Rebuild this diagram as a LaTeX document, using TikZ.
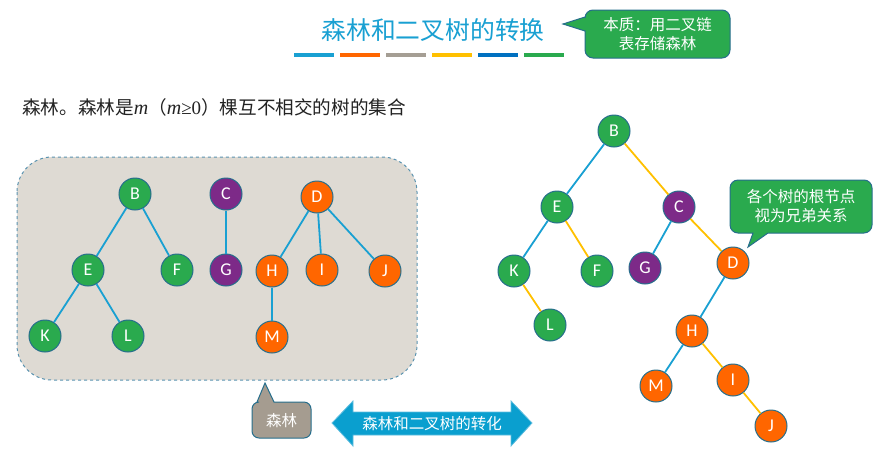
\documentclass[tikz,border=0pt]{standalone}
\usepackage{fontspec}
\setmainfont{Liberation Serif}
\newfontfamily\cjk{Noto Sans CJK SC}
\newfontfamily\lat{Carlito}
\definecolor{ttl}{HTML}{19A0D2}
\definecolor{bOrange}{HTML}{FF6600}
\definecolor{bGray}{HTML}{A59E94}
\definecolor{bYellow}{HTML}{FFC000}
\definecolor{bDBlue}{HTML}{0070C0}
\definecolor{bGreen}{HTML}{2AAA4E}
\definecolor{nGreen}{HTML}{2AAA4E}
\definecolor{nPurple}{HTML}{7D2A88}
\definecolor{nOrange}{HTML}{FF6600}
\definecolor{nBorder}{HTML}{266E8C}
\definecolor{eBlue}{HTML}{19A0D2}
\definecolor{eYellow}{HTML}{FFC000}
\definecolor{boxFill}{HTML}{DEDAD3}
\definecolor{boxLine}{HTML}{5A93B0}
\definecolor{grayCall}{HTML}{A59C90}
\definecolor{arrFill}{HTML}{0A9FCF}
\definecolor{descText}{HTML}{222222}
\tikzset{
  tn/.style={circle,draw=nBorder,line width=1pt,minimum size=32pt,inner sep=0pt,text=white,font=\lat\fontsize{18}{18}\selectfont},
  gn/.style={tn,fill=nGreen},
  pn/.style={tn,fill=nPurple},
  on/.style={tn,fill=nOrange},
  be/.style={draw=eBlue,line width=1.8pt},
  ye/.style={draw=eYellow,line width=1.8pt},
  bar/.style={line width=4pt},
  calltext/.style={text=white,font=\cjk\fontsize{15.5}{19}\selectfont,align=center,inner sep=0pt}
}
\begin{document}
\begin{tikzpicture}[x=1pt,y=-1pt]
\useasboundingbox (0,0) rectangle (885,464);
% title
\node[text=ttl,font=\cjk\fontsize{24.8}{25}\selectfont,inner sep=0pt] (title) at (433,30) {森林和二叉树的转换};
\draw[bar,ttl] (294,55) -- (334,55);
\draw[bar,bOrange] (340,55) -- (380,55);
\draw[bar,bGray] (386,55) -- (426,55);
\draw[bar,bYellow] (432,55) -- (472,55);
\draw[bar,bDBlue] (478,55) -- (518,55);
\draw[bar,bGreen] (524,55) -- (564,55);
% top callout
\draw[fill=bGreen,draw=nBorder,line width=1pt] (563,24) -- (585,17) [rounded corners=8] -- (585,10) -- (730,10) -- (730,58) -- (585,58) [sharp corners] -- (585,31) -- cycle;
\node[calltext] (topcall) at (657.5,34) {本质：用二叉链\\表存储森林};
% description
\node[anchor=west,inner sep=0pt,text=descText,font=\cjk\fontsize{18.6}{18.6}\selectfont] (desc) at (22,107) {森林。森林是{\rmfamily\itshape\fontsize{20}{20}\selectfont m}（{\rmfamily\itshape\fontsize{20}{20}\selectfont m}{\rmfamily\fontsize{19}{19}\selectfont ≥0}）棵互不相交的树的集合};
% forest box
\draw[fill=boxFill,draw=boxLine,dashed,line width=1pt,rounded corners=35] (17,157) rectangle (417,380);
% left forest nodes
\node[gn] (lB) at (135,194) {B};
\node[pn] (lC) at (226,194) {C};
\node[on] (lD) at (317,197) {D};
\node[gn] (lE) at (88,270) {E};
\node[gn] (lF) at (177,270) {F};
\node[pn] (lG) at (226,270) {G};
\node[on] (lH) at (272,271) {H};
\node[on] (lI) at (322,270) {I};
\node[on] (lJ) at (385,271) {J};
\node[gn] (lK) at (45,336) {K};
\node[gn] (lL) at (128,336) {L};
\node[on] (lM) at (272,337) {M};
\draw[be] (lB) -- (lE);
\draw[be] (lB) -- (lF);
\draw[be] (lE) -- (lK);
\draw[be] (lE) -- (lL);
\draw[be] (lC) -- (lG);
\draw[be] (lD) -- (lH);
\draw[be] (lD) -- (lI);
\draw[be] (lD) -- (lJ);
\draw[be] (lH) -- (lM);
% right binary tree
\node[gn] (rB) at (614,131) {B};
\node[gn] (rE) at (557,207) {E};
\node[pn] (rC) at (679,207) {C};
\node[gn] (rK) at (514,271) {K};
\node[gn] (rF) at (597,271) {F};
\node[pn] (rG) at (645,268) {G};
\node[on] (rD) at (733,263) {D};
\node[gn] (rL) at (550,325) {L};
\node[on] (rH) at (692,331) {H};
\node[on] (rM) at (656,386) {M};
\node[on] (rI) at (733,380) {I};
\node[on] (rJ) at (771,426) {J};
\draw[be] (rB) -- (rE);
\draw[ye] (rB) -- (rC);
\draw[be] (rE) -- (rK);
\draw[ye] (rE) -- (rF);
\draw[be] (rC) -- (rG);
\draw[ye] (rC) -- (rD);
\draw[ye] (rK) -- (rL);
\draw[be] (rD) -- (rH);
\draw[be] (rH) -- (rM);
\draw[ye] (rH) -- (rI);
\draw[ye] (rI) -- (rJ);
% right callout
\draw[fill=bGreen,draw=nBorder,line width=1pt] (748,247) -- (753,233) [rounded corners=8] -- (730,233) -- (730,180) -- (872,180) -- (872,233) [sharp corners] -- (768,233) -- cycle;
\node[calltext] (rcall) at (801,206.5) {各个树的根节点\\视为兄弟关系};
% bottom gray callout
\draw[fill=grayCall,draw=nBorder,line width=1pt] (265,383) -- (274,402) [rounded corners=7] -- (311,402) -- (311,438) -- (252,438) -- (252,402) [sharp corners] -- (257,402) -- cycle;
\node[calltext] (forestlbl) at (281.5,421) {森林};
% double arrow
\draw[fill=arrFill,draw=eBlue!70!white,line width=0.8pt] (332,423) -- (353,401) -- (353,412) -- (511,412) -- (511,401) -- (532,423) -- (511,446) -- (511,435) -- (353,435) -- (353,446) -- cycle;
\node[calltext] (arrtext) at (432,423.5) {森林和二叉树的转化};
\end{tikzpicture}
\end{document}
